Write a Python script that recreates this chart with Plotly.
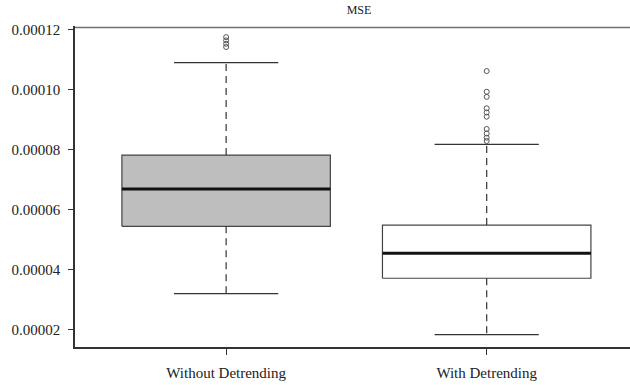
import plotly.graph_objects as go

# ---- data ----
categories = ["Without Detrending", "With Detrending"]
q1 = [0.0000544, 0.0000371]
median = [0.0000668, 0.0000454]
q3 = [0.0000781, 0.0000548]
lower_whisker = [0.0000320, 0.0000183]
upper_whisker = [0.0001089, 0.0000817]
outliers = [
    [0.0001174, 0.0001163, 0.0001152, 0.0001141],
    [0.0001061, 0.0000992, 0.0000975, 0.0000937, 0.0000923, 0.0000909,
     0.0000868, 0.0000853, 0.0000839, 0.0000828],
]
box_fill = ["#bebebe", "#ffffff"]
y_ticks = [0.00002, 0.00004, 0.00006, 0.00008, 0.00010, 0.00012]

BOX_W = 0.8
CAP_W = 0.4
FONT = "Liberation Serif, Times New Roman, serif"
X_RANGE = [0.42, 2.55]
Y_RANGE = [0.0000142, 0.0001211]
FRAME_TOP = 0.0001206

fig = go.Figure()
for i, cat in enumerate(categories):
    x = i + 1
    h = BOX_W / 2
    c = CAP_W / 2
    # box
    fig.add_trace(go.Scatter(
        x=[x - h, x + h, x + h, x - h, x - h],
        y=[q1[i], q1[i], q3[i], q3[i], q1[i]],
        mode="lines", fill="toself", fillcolor=box_fill[i],
        line=dict(color="#444444", width=1.2), showlegend=False, hoverinfo="skip"))
    # median
    fig.add_trace(go.Scatter(
        x=[x - h, x + h], y=[median[i], median[i]], mode="lines",
        line=dict(color="#111111", width=3), showlegend=False, hoverinfo="skip"))
    # whiskers (dashed)
    fig.add_trace(go.Scatter(
        x=[x, x, None, x, x],
        y=[q3[i], upper_whisker[i], None, q1[i], lower_whisker[i]],
        mode="lines", line=dict(color="#333333", width=1.2, dash="7px,5px"),
        showlegend=False, hoverinfo="skip"))
    # caps
    fig.add_trace(go.Scatter(
        x=[x - c, x + c, None, x - c, x + c],
        y=[upper_whisker[i], upper_whisker[i], None, lower_whisker[i], lower_whisker[i]],
        mode="lines", line=dict(color="#333333", width=1.2),
        showlegend=False, hoverinfo="skip"))
    # outliers
    fig.add_trace(go.Scatter(
        x=[x] * len(outliers[i]), y=outliers[i], mode="markers",
        marker=dict(symbol="circle-open", size=5, color="#555555", line=dict(width=1)),
        showlegend=False, hoverinfo="skip"))

# top frame line (lighter grey)
fig.add_trace(go.Scatter(x=X_RANGE, y=[FRAME_TOP, FRAME_TOP], mode="lines",
                         line=dict(color="#6f6f6f", width=1.6),
                         showlegend=False, hoverinfo="skip"))

fig.update_layout(
    width=630, height=385,
    margin=dict(l=75, r=0, t=26, b=38, autoexpand=False),
    paper_bgcolor="white", plot_bgcolor="white",
    font=dict(family=FONT, size=15, color="#222222"),
    title=dict(text="MSE", x=359 / 630, xref="container", xanchor="center",
               y=1 - 10 / 385, yref="container", yanchor="middle",
               font=dict(family=FONT, size=12, color="#222222")),
)
fig.update_xaxes(
    range=X_RANGE, tickvals=[1, 2], ticktext=categories, automargin=False,
    showline=True, linecolor="#333333", linewidth=1.5,
    ticks="outside", ticklen=6, tickcolor="#333333", tickwidth=1.2,
    showgrid=False, zeroline=False, ticklabelstandoff=5,
    tickfont=dict(family=FONT, size=15, color="#222222"))
fig.update_yaxes(
    range=Y_RANGE, tickvals=y_ticks, tickformat=".5f", automargin=False,
    showline=True, linecolor="#333333", linewidth=1.5,
    ticks="outside", ticklen=5, tickcolor="#333333", tickwidth=1.2,
    showgrid=False, zeroline=False, ticklabelstandoff=5,
    tickfont=dict(family=FONT, size=15, color="#222222"))

fig.write_html("out.html", config={"displayModeBar": False},
               post_script="document.body.style.margin='0px';document.body.style.overflow='hidden';")
